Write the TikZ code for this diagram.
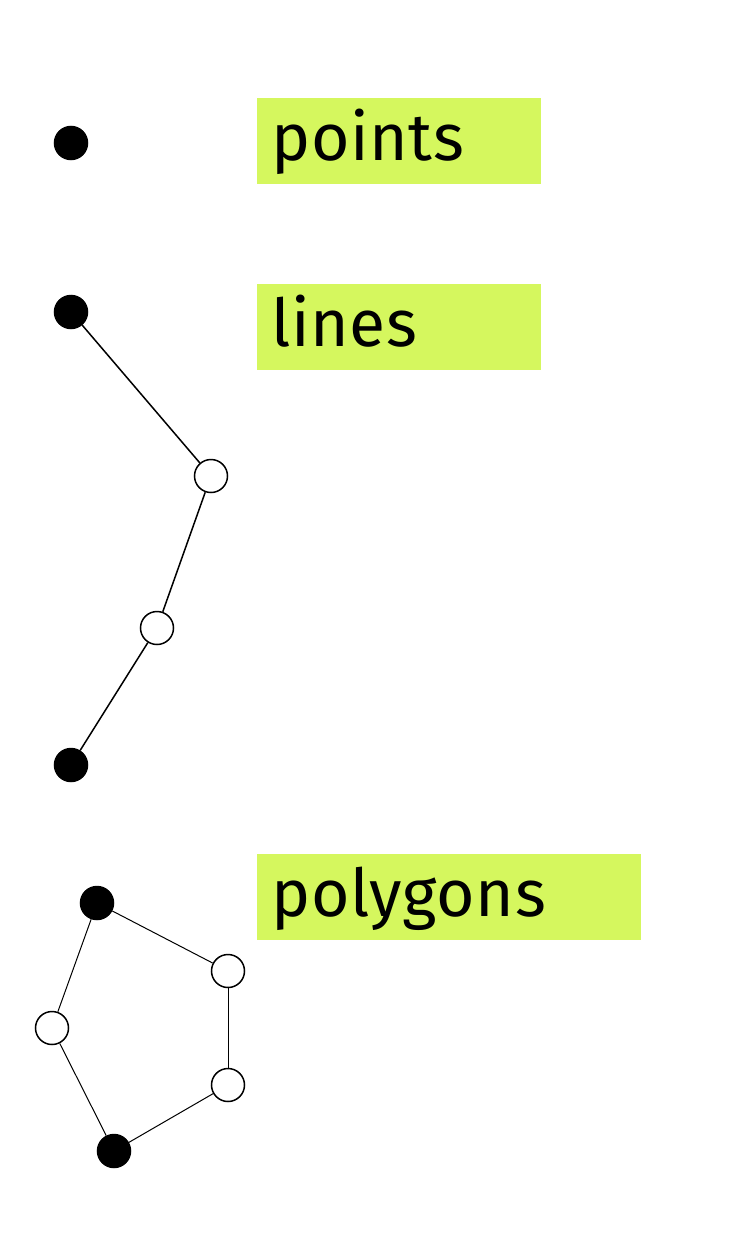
\documentclass[tikz,border=0pt]{standalone}
\usepackage{fontspec}
\setmainfont[LetterSpace=1]{Fira Sans}
\definecolor{lime}{HTML}{D5F75E}
\begin{document}
\begin{tikzpicture}[x=1pt,y=-1pt,
  full/.style={circle,fill=black,draw=black,line width=1.5pt,minimum size=33pt,inner sep=0pt},
  hollow/.style={circle,fill=white,draw=black,line width=1.5pt,minimum size=33pt,inner sep=0pt},
  labelbox/.style={fill=lime,draw=none},
  labeltext/.style={anchor=base west,inner sep=0pt,font=\fontsize{66}{66}\selectfont},
  edge/.style={draw=black,line width=1.5pt},
  thinedge/.style={draw=black,line width=1pt}]
\useasboundingbox (0,0) rectangle (738,1250);
% label boxes
\fill[labelbox] (257,98) rectangle (541,184);
\fill[labelbox] (257,284) rectangle (541,370);
\fill[labelbox] (257,854) rectangle (641,940);
\node[labeltext] (tpoints) at (271,160) {points};
\node[labeltext] (tlines) at (271,346) {lines};
\node[labeltext] (tpolys) at (271,916) {polygons};
% points
\node[full] (p1) at (71,143) {};
% lines
\node[full] (l1) at (71,312) {};
\node[hollow] (l2) at (211,476) {};
\node[hollow] (l3) at (157,628) {};
\node[full] (l4) at (71,765) {};
\draw[edge] (l1) -- (l2);
\draw[edge] (l2) -- (l3);
\draw[edge] (l3) -- (l4);
% polygon
\node[full] (g1) at (97,903) {};
\node[hollow] (g2) at (228,971) {};
\node[hollow] (g3) at (228,1085) {};
\node[full] (g4) at (114,1151) {};
\node[hollow] (g5) at (52,1028) {};
\draw[thinedge] (g1) -- (g2);
\draw[thinedge] (g2) -- (g3);
\draw[thinedge] (g3) -- (g4);
\draw[thinedge] (g4) -- (g5);
\draw[thinedge] (g5) -- (g1);
\end{tikzpicture}
\end{document}
